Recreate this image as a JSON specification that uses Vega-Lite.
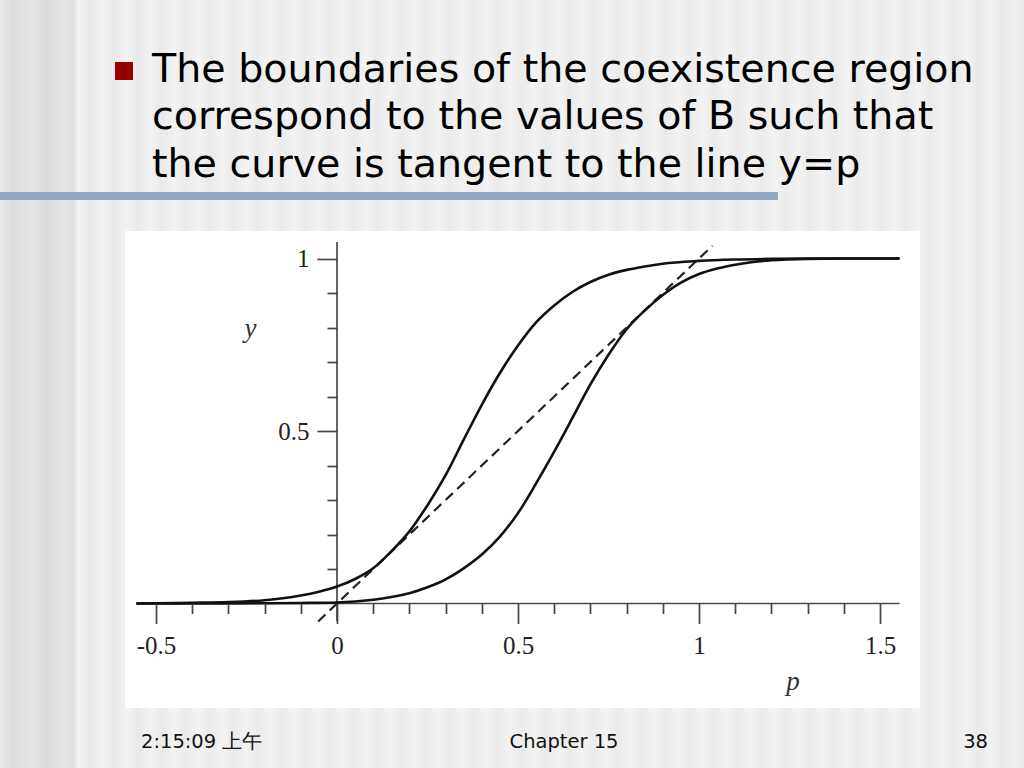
{
  "$schema": "https://vega.github.io/schema/vega-lite/v6.json",
  "width": 1024,
  "height": 768,
  "autosize": "none",
  "padding": 0,
  "background": "#efefef",
  "config": {"view": {"stroke": null}},
  "datasets": {
    "one": [{}],
    "curves": [
      {"curve": "a", "p": -0.554, "y": 0.0005},
      {"curve": "a", "p": -0.45, "y": 0.0012},
      {"curve": "a", "p": -0.4, "y": 0.002},
      {"curve": "a", "p": -0.3, "y": 0.004},
      {"curve": "a", "p": -0.2, "y": 0.0095},
      {"curve": "a", "p": -0.15, "y": 0.015},
      {"curve": "a", "p": -0.1, "y": 0.023},
      {"curve": "a", "p": -0.05, "y": 0.034},
      {"curve": "a", "p": 0, "y": 0.049},
      {"curve": "a", "p": 0.05, "y": 0.071},
      {"curve": "a", "p": 0.1, "y": 0.102},
      {"curve": "a", "p": 0.15, "y": 0.151},
      {"curve": "a", "p": 0.2, "y": 0.209},
      {"curve": "a", "p": 0.25, "y": 0.285},
      {"curve": "a", "p": 0.3, "y": 0.372},
      {"curve": "a", "p": 0.35, "y": 0.475},
      {"curve": "a", "p": 0.4, "y": 0.576},
      {"curve": "a", "p": 0.45, "y": 0.668},
      {"curve": "a", "p": 0.5, "y": 0.748},
      {"curve": "a", "p": 0.55, "y": 0.815},
      {"curve": "a", "p": 0.6, "y": 0.864},
      {"curve": "a", "p": 0.65, "y": 0.903},
      {"curve": "a", "p": 0.7, "y": 0.932},
      {"curve": "a", "p": 0.75, "y": 0.953},
      {"curve": "a", "p": 0.8, "y": 0.967},
      {"curve": "a", "p": 0.85, "y": 0.977},
      {"curve": "a", "p": 0.9, "y": 0.985},
      {"curve": "a", "p": 1.0, "y": 0.993},
      {"curve": "a", "p": 1.1, "y": 0.997},
      {"curve": "a", "p": 1.2, "y": 0.999},
      {"curve": "a", "p": 1.35, "y": 1.0},
      {"curve": "a", "p": 1.554, "y": 1.0},
      {"curve": "b", "p": -0.554, "y": 0.0},
      {"curve": "b", "p": -0.3, "y": 0.0004},
      {"curve": "b", "p": -0.1, "y": 0.0015},
      {"curve": "b", "p": 0, "y": 0.003},
      {"curve": "b", "p": 0.1, "y": 0.011},
      {"curve": "b", "p": 0.15, "y": 0.019},
      {"curve": "b", "p": 0.2, "y": 0.03},
      {"curve": "b", "p": 0.25, "y": 0.047},
      {"curve": "b", "p": 0.3, "y": 0.07},
      {"curve": "b", "p": 0.35, "y": 0.102},
      {"curve": "b", "p": 0.4, "y": 0.142},
      {"curve": "b", "p": 0.45, "y": 0.194},
      {"curve": "b", "p": 0.5, "y": 0.262},
      {"curve": "b", "p": 0.55, "y": 0.348},
      {"curve": "b", "p": 0.6, "y": 0.44},
      {"curve": "b", "p": 0.65, "y": 0.537},
      {"curve": "b", "p": 0.7, "y": 0.635},
      {"curve": "b", "p": 0.75, "y": 0.721},
      {"curve": "b", "p": 0.8, "y": 0.795},
      {"curve": "b", "p": 0.85, "y": 0.849},
      {"curve": "b", "p": 0.9, "y": 0.894},
      {"curve": "b", "p": 0.95, "y": 0.93},
      {"curve": "b", "p": 1.0, "y": 0.955},
      {"curve": "b", "p": 1.05, "y": 0.971},
      {"curve": "b", "p": 1.1, "y": 0.982},
      {"curve": "b", "p": 1.15, "y": 0.99},
      {"curve": "b", "p": 1.2, "y": 0.995},
      {"curve": "b", "p": 1.3, "y": 0.999},
      {"curve": "b", "p": 1.4, "y": 1.0},
      {"curve": "b", "p": 1.554, "y": 1.0}
    ],
    "diag": [
      {"p": -0.052, "y": -0.052},
      {"p": 1.037, "y": 1.037}
    ]
  },
  "layer": [
    {
      "data": {"name": "one"},
      "mark": {"type": "rect", "fill": {"gradient": "linear", "x1": 0, "x2": 1, "y1": 0, "y2": 0, "stops": [
        {"offset": 0.0, "color": "#e9e9e9"},
        {"offset": 0.012, "color": "#dcdcdc"},
        {"offset": 0.03, "color": "#e5e5e5"},
        {"offset": 0.045, "color": "#d9d9d9"},
        {"offset": 0.06, "color": "#e6e6e6"},
        {"offset": 0.072, "color": "#dfdfdf"},
        {"offset": 0.0762, "color": "#f3f3f3"},
        {"offset": 0.0879, "color": "#e9e9e9"},
        {"offset": 0.0996, "color": "#f3f3f3"},
        {"offset": 0.1113, "color": "#e9e9e9"},
        {"offset": 0.1230, "color": "#f3f3f3"},
        {"offset": 0.1348, "color": "#e9e9e9"},
        {"offset": 0.1465, "color": "#f3f3f3"},
        {"offset": 0.1582, "color": "#eaeaea"},
        {"offset": 0.1699, "color": "#f3f3f3"},
        {"offset": 0.1816, "color": "#eaeaea"},
        {"offset": 0.1934, "color": "#f3f3f3"},
        {"offset": 0.2051, "color": "#eaeaea"},
        {"offset": 0.2168, "color": "#f3f3f3"},
        {"offset": 0.2285, "color": "#eaeaea"},
        {"offset": 0.2402, "color": "#f3f3f3"},
        {"offset": 0.2520, "color": "#ebebeb"},
        {"offset": 0.2637, "color": "#f3f3f3"},
        {"offset": 0.2754, "color": "#ebebeb"},
        {"offset": 0.2871, "color": "#f3f3f3"},
        {"offset": 0.2988, "color": "#ebebeb"},
        {"offset": 0.3105, "color": "#f3f3f3"},
        {"offset": 0.3223, "color": "#ebebeb"},
        {"offset": 0.3340, "color": "#f3f3f3"},
        {"offset": 0.3457, "color": "#ebebeb"},
        {"offset": 0.3574, "color": "#f3f3f3"},
        {"offset": 0.3691, "color": "#ebebeb"},
        {"offset": 0.3809, "color": "#f3f3f3"},
        {"offset": 0.3926, "color": "#ebebeb"},
        {"offset": 0.4043, "color": "#f3f3f3"},
        {"offset": 0.4160, "color": "#ebebeb"},
        {"offset": 0.4277, "color": "#f3f3f3"},
        {"offset": 0.4395, "color": "#ebebeb"},
        {"offset": 0.4512, "color": "#f3f3f3"},
        {"offset": 0.4629, "color": "#ebebeb"},
        {"offset": 0.4746, "color": "#f3f3f3"},
        {"offset": 0.4863, "color": "#ebebeb"},
        {"offset": 0.4980, "color": "#f3f3f3"},
        {"offset": 0.5098, "color": "#ebebeb"},
        {"offset": 0.5215, "color": "#f3f3f3"},
        {"offset": 0.5332, "color": "#ebebeb"},
        {"offset": 0.5449, "color": "#f3f3f3"},
        {"offset": 0.5566, "color": "#ebebeb"},
        {"offset": 0.5684, "color": "#f3f3f3"},
        {"offset": 0.5801, "color": "#ebebeb"},
        {"offset": 0.5918, "color": "#f3f3f3"},
        {"offset": 0.6035, "color": "#ebebeb"},
        {"offset": 0.6152, "color": "#f3f3f3"},
        {"offset": 0.6270, "color": "#ebebeb"},
        {"offset": 0.6387, "color": "#f3f3f3"},
        {"offset": 0.6504, "color": "#ebebeb"},
        {"offset": 0.6621, "color": "#f3f3f3"},
        {"offset": 0.6738, "color": "#ebebeb"},
        {"offset": 0.6855, "color": "#f3f3f3"},
        {"offset": 0.6973, "color": "#ebebeb"},
        {"offset": 0.7090, "color": "#f3f3f3"},
        {"offset": 0.7207, "color": "#ebebeb"},
        {"offset": 0.7324, "color": "#f3f3f3"},
        {"offset": 0.7441, "color": "#ebebeb"},
        {"offset": 0.7559, "color": "#f3f3f3"},
        {"offset": 0.7676, "color": "#ebebeb"},
        {"offset": 0.7793, "color": "#f3f3f3"},
        {"offset": 0.7910, "color": "#ebebeb"},
        {"offset": 0.8027, "color": "#f3f3f3"},
        {"offset": 0.8145, "color": "#ebebeb"},
        {"offset": 0.8262, "color": "#f3f3f3"},
        {"offset": 0.8379, "color": "#ebebeb"},
        {"offset": 0.8496, "color": "#f3f3f3"},
        {"offset": 0.8613, "color": "#ebebeb"},
        {"offset": 0.8730, "color": "#f3f3f3"},
        {"offset": 0.8848, "color": "#ebebeb"},
        {"offset": 0.8965, "color": "#f3f3f3"},
        {"offset": 0.9082, "color": "#eaeaea"},
        {"offset": 0.9199, "color": "#f3f3f3"},
        {"offset": 0.9316, "color": "#eaeaea"},
        {"offset": 0.9434, "color": "#f2f2f2"},
        {"offset": 0.9551, "color": "#e9e9e9"},
        {"offset": 0.9668, "color": "#f2f2f2"},
        {"offset": 0.9785, "color": "#e9e9e9"},
        {"offset": 0.9902, "color": "#f1f1f1"},
        {"offset": 1.0, "color": "#e8e8e8"}
      ]}},
      "encoding": {
        "x": {"datum": -0.93094, "type": "quantitative", "scale": {"domain": [-0.93094, 1.89779], "nice": false, "zero": false}},
        "x2": {"datum": 1.89779},
        "y": {"datum": 1.74928, "type": "quantitative", "scale": {"domain": [-0.47681, 1.74928], "nice": false, "zero": false}},
        "y2": {"datum": -0.47681}
      }
    },
    {
      "data": {"name": "one"},
      "mark": {"type": "rect", "fill": "#ffffff"},
      "encoding": {
        "x": {"datum": -0.5856, "type": "quantitative"},
        "x2": {"datum": 1.6105},
        "y": {"datum": 1.0797, "type": "quantitative"},
        "y2": {"datum": -0.3029}
      }
    },
    {
      "data": {"name": "one"},
      "mark": {"type": "rule", "color": "#92a8c3", "strokeWidth": 8},
      "encoding": {
        "x": {"datum": -0.93094, "type": "quantitative"},
        "x2": {"datum": 1.2182},
        "y": {"datum": 1.18116, "type": "quantitative"}
      }
    },
    {
      "data": {"name": "one"},
      "mark": {"type": "square", "size": 324, "filled": true, "color": "#990000", "opacity": 1},
      "encoding": {
        "x": {"datum": -0.5884, "type": "quantitative"},
        "y": {"datum": 1.5435, "type": "quantitative"}
      }
    },
    {
      "data": {"name": "one"},
      "mark": {"type": "text", "font": "DejaVu Sans", "fontSize": 39.6, "align": "left", "baseline": "alphabetic", "lineHeight": 47.5, "color": "#000000"},
      "encoding": {
        "x": {"datum": -0.511, "type": "quantitative"},
        "y": {"datum": 1.5116, "type": "quantitative"},
        "text": {"value": ["The boundaries of the coexistence region", "correspond to the values of B such that", "the curve is tangent to the line y=p"]}
      }
    },
    {
      "data": {"name": "one"},
      "mark": {"type": "text", "font": "DejaVu Sans", "fontSize": 19.5, "align": "left", "baseline": "alphabetic", "color": "#111111"},
      "encoding": {
        "x": {"datum": -0.5414, "type": "quantitative"},
        "y": {"datum": -0.41884, "type": "quantitative"},
        "text": {"value": "2:15:09 上午"}
      }
    },
    {
      "data": {"name": "one"},
      "mark": {"type": "text", "font": "DejaVu Sans", "fontSize": 19.5, "align": "center", "baseline": "alphabetic", "color": "#111111"},
      "encoding": {
        "x": {"datum": 0.6271, "type": "quantitative"},
        "y": {"datum": -0.41884, "type": "quantitative"},
        "text": {"value": "Chapter 15"}
      }
    },
    {
      "data": {"name": "one"},
      "mark": {"type": "text", "font": "DejaVu Sans", "fontSize": 19.5, "align": "right", "baseline": "alphabetic", "color": "#111111"},
      "encoding": {
        "x": {"datum": 1.7983, "type": "quantitative"},
        "y": {"datum": -0.41884, "type": "quantitative"},
        "text": {"value": "38"}
      }
    },
    {
      "data": {"name": "one"},
      "mark": {"type": "text", "font": "Liberation Serif", "fontStyle": "italic", "fontSize": 27, "align": "center", "baseline": "alphabetic", "color": "#333333"},
      "encoding": {
        "x": {"datum": -0.239, "type": "quantitative"},
        "y": {"datum": 0.7725, "type": "quantitative"},
        "text": {"value": "y"}
      }
    },
    {
      "data": {"name": "one"},
      "mark": {"type": "text", "font": "Liberation Serif", "fontStyle": "italic", "fontSize": 27, "align": "center", "baseline": "alphabetic", "color": "#333333"},
      "encoding": {
        "x": {"datum": 1.2597, "type": "quantitative"},
        "y": {"datum": -0.2507, "type": "quantitative"},
        "text": {"value": "p"}
      }
    },
    {
      "data": {"name": "one"},
      "mark": {"type": "rule", "color": "#4a4a4a", "strokeWidth": 1.7},
      "encoding": {
        "x": {"datum": -0.554, "type": "quantitative"},
        "x2": {"datum": 1.554},
        "y": {"datum": 0, "type": "quantitative"}
      }
    },
    {
      "data": {"name": "one"},
      "mark": {"type": "rule", "color": "#4a4a4a", "strokeWidth": 1.7},
      "encoding": {
        "x": {"datum": 0, "type": "quantitative"},
        "y": {"datum": -0.051, "type": "quantitative"},
        "y2": {"datum": 1.048}
      }
    },
    {
      "data": {"name": "diag"},
      "mark": {"type": "line", "color": "#222222", "strokeWidth": 2.2, "strokeDash": [10, 6]},
      "encoding": {
        "x": {"field": "p", "type": "quantitative"},
        "y": {"field": "y", "type": "quantitative"}
      }
    },
    {
      "data": {"name": "curves"},
      "mark": {"type": "line", "color": "#111111", "strokeWidth": 2.6, "interpolate": "monotone"},
      "encoding": {
        "x": {
          "field": "p", "type": "quantitative",
          "axis": {
            "orient": "bottom", "offset": -164.5, "domain": false, "grid": false, "title": null, "zindex": 2,
            "values": [-0.5, -0.4, -0.3, -0.2, -0.1, 0, 0.1, 0.2, 0.3, 0.4, 0.5, 0.6, 0.7, 0.8, 0.9, 1, 1.1, 1.2, 1.3, 1.4, 1.5],
            "tickColor": "#444444", "tickWidth": 1.7,
            "tickSize": {"condition": {"test": "abs(datum.value*2 - round(datum.value*2)) < 0.001", "value": 20}, "value": 10},
            "labelExpr": "abs(datum.value*2 - round(datum.value*2)) < 0.001 ? toString(datum.value) : ''",
            "labelFont": "Liberation Serif", "labelFontSize": 25, "labelColor": "#222222",
            "labelPadding": 10, "labelBaseline": "top", "labelFlush": false, "labelOverlap": false, "labelBound": false
          }
        },
        "y": {
          "field": "y", "type": "quantitative",
          "axis": {
            "orient": "left", "offset": -337, "domain": false, "grid": false, "title": null, "zindex": 2,
            "values": [0.1, 0.2, 0.3, 0.4, 0.5, 0.6, 0.7, 0.8, 0.9, 1],
            "tickColor": "#444444", "tickWidth": 1.7,
            "tickSize": {"condition": {"test": "datum.value == 0.5 || datum.value == 1", "value": 20}, "value": 10},
            "labelExpr": "datum.value == 0.5 || datum.value == 1 ? toString(datum.value) : ''",
            "labelFont": "Liberation Serif", "labelFontSize": 25, "labelColor": "#222222",
            "labelPadding": 8, "labelBaseline": "middle", "labelAlign": "right", "labelFlush": false, "labelOverlap": false, "labelBound": false
          }
        },
        "detail": {"field": "curve"}
      }
    }
  ]
}
